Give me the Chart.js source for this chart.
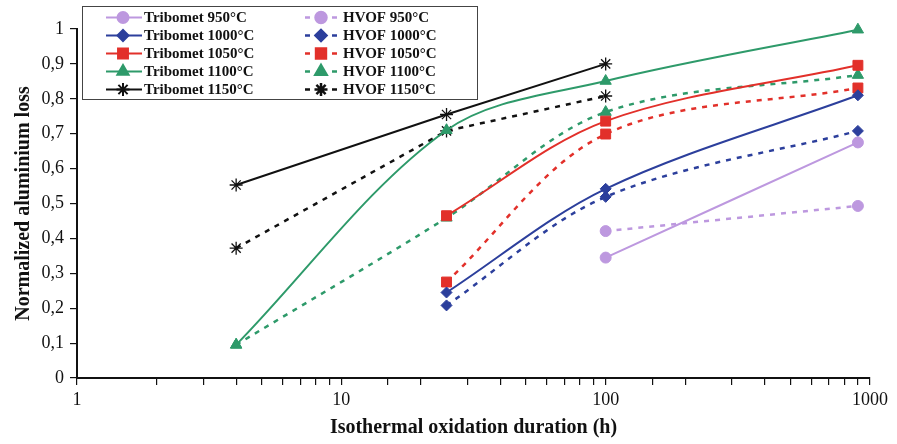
<!DOCTYPE html>
<html>
<head>
<meta charset="utf-8">
<script src="https://cdn.jsdelivr.net/npm/chart.js@4.4.0/dist/chart.umd.min.js"></script>
<style>
  html, body { margin: 0; padding: 0; background: #fff; }
  #wrap { width: 897px; height: 444px; }
</style>
</head>
<body>
<div id="wrap"><canvas id="chart"></canvas></div>
<script>
// --- Data ---
const hours = [4, 25, 100, 900];

const tribomet950  = [null, null, 0.345, 0.675];
const tribomet1000 = [null, 0.245, 0.542, 0.810];
const tribomet1050 = [null, 0.465, 0.736, 0.896];
const tribomet1100 = [0.095, 0.710, 0.851, 0.998];
const tribomet1150 = [0.553, 0.755, 0.900, null];

const hvof950  = [null, null, 0.421, 0.493];
const hvof1000 = [null, 0.208, 0.519, 0.708];
const hvof1050 = [null, 0.275, 0.699, 0.831];
const hvof1100 = [0.095, 0.459, 0.762, 0.868];
const hvof1150 = [0.372, 0.708, 0.808, null];

const xTickLabels = [1, 10, 100, 1000];

const colors = {
    950: '#bd98df',
    1000: '#2c3f9c',
    1050: '#e2302a',
    1100: '#2e9a6a',
    1150: '#111111'
};
const markers = {
    950: { style: 'circle', r: 5.5 },
    1000: { style: 'rectRot', r: 5.5 },
    1050: { style: 'rect', r: 7 },
    1100: { style: 'triangle', r: 6.5 },
    1150: { style: 'star', r: 6.5 }
};

const toPoints = vals => hours
    .map((h, i) => ({ x: h, y: vals[i] }))
    .filter(p => p.y !== null);

const makeSeries = (label, temp, vals, dashed) => ({
    label,
    data: toPoints(vals),
    borderColor: colors[temp],
    backgroundColor: colors[temp],
    borderWidth: dashed ? 2.5 : 2,
    borderDash: dashed ? [5, 6] : [],
    pointStyle: markers[temp].style,
    pointRadius: markers[temp].r,
    pointHoverRadius: markers[temp].r,
    pointBorderWidth: temp === 1150 ? 1.3 : 1,
    pointBorderColor: colors[temp],
    pointBackgroundColor: colors[temp],
    // the 1150°C curves are drawn as straight segments in the original
    tension: temp === 1150 ? 0 : 0.33,
    clip: false,
    dashed
});

const datasets = [
    makeSeries('Tribomet 950°C', 950, tribomet950, false),
    makeSeries('Tribomet 1000°C', 1000, tribomet1000, false),
    makeSeries('Tribomet 1050°C', 1050, tribomet1050, false),
    makeSeries('Tribomet 1100°C', 1100, tribomet1100, false),
    makeSeries('Tribomet 1150°C', 1150, tribomet1150, false),
    makeSeries('HVOF 950°C', 950, hvof950, true),
    makeSeries('HVOF 1000°C', 1000, hvof1000, true),
    makeSeries('HVOF 1050°C', 1050, hvof1050, true),
    makeSeries('HVOF 1100°C', 1100, hvof1100, true),
    makeSeries('HVOF 1150°C', 1150, hvof1150, true)
];

// --- Boxed two-column legend drawn inside the plot ---
const boxedLegend = {
    id: 'boxedLegend',
    afterDraw(chart) {
        const ctx = chart.ctx;
        ctx.save();
        ctx.fillStyle = '#fff';
        ctx.fillRect(82, 6, 395, 93);
        ctx.strokeStyle = '#444';
        ctx.lineWidth = 1;
        ctx.strokeRect(82.5, 6.5, 395, 93);

        ctx.font = 'bold 15px "Liberation Serif"';
        ctx.textBaseline = 'middle';
        ctx.textAlign = 'left';
        chart.data.datasets.forEach((ds, i) => {
            const col = Math.floor(i / 5);
            const row = i % 5;
            const y = 17.5 + row * 18;
            ctx.strokeStyle = ds.borderColor;
            ctx.fillStyle = ds.borderColor;
            ctx.setLineDash([]);
            const pt = { pointStyle: ds.pointStyle, radius: ds.pointRadius, borderWidth: ds.pointBorderWidth, rotation: 0 };
            if (!ds.dashed) {
                ctx.lineWidth = 2;
                ctx.beginPath();
                ctx.moveTo(106, y);
                ctx.lineTo(142, y);
                ctx.stroke();
                Chart.helpers.drawPoint(ctx, pt, 123, y);
            } else {
                ctx.lineWidth = 2.5;
                ctx.beginPath();
                ctx.moveTo(305, y); ctx.lineTo(310, y);
                ctx.moveTo(332, y); ctx.lineTo(337, y);
                ctx.stroke();
                Chart.helpers.drawPoint(ctx, pt, 321, y);
            }
            ctx.fillStyle = '#111';
            ctx.fillText(ds.label, col === 0 ? 144 : 343, y + 1);
        });
        ctx.restore();
    }
};

const serif = '"Liberation Serif", "Times New Roman", serif';

new Chart(document.getElementById('chart'), {
    type: 'line',
    data: { datasets },
    plugins: [boxedLegend],
    options: {
        responsive: true,
        maintainAspectRatio: false,
        animation: false,
        layout: { padding: { top: 29, right: 27, left: 0, bottom: 0 } },
        plugins: {
            legend: { display: false },
            tooltip: { enabled: false }
        },
        scales: {
            x: {
                type: 'logarithmic',
                min: 1,
                max: 1000,
                grid: { display: true, drawOnChartArea: false, drawTicks: true, tickLength: 7, color: '#111', lineWidth: 1.2 },
                border: { display: true, color: '#111', width: 2 },
                ticks: {
                    autoSkip: false,
                    maxRotation: 0,
                    padding: 4,
                    color: '#111',
                    font: { family: serif, size: 18 },
                    callback: v => xTickLabels.includes(v) ? String(v) : ''
                },
                title: {
                    display: true,
                    text: 'Isothermal oxidation duration (h)',
                    color: '#111',
                    font: { family: serif, size: 20, weight: 'bold' },
                    padding: { top: 0, bottom: 4 }
                },
                afterFit: scale => { scale.height = 66; }
            },
            y: {
                min: 0,
                max: 1,
                ticks: {
                    stepSize: 0.1,
                    padding: 6,
                    color: '#111',
                    font: { family: serif, size: 18 },
                    callback: v => String(Math.round(v * 10) / 10).replace('.', ',')
                },
                grid: { display: true, drawOnChartArea: false, drawTicks: true, tickLength: 7, color: '#111', lineWidth: 1.2 },
                border: { display: true, color: '#111', width: 2 },
                title: {
                    display: true,
                    text: 'Normalized aluminium loss',
                    color: '#111',
                    font: { family: serif, size: 20, weight: 'bold' },
                    padding: { top: 12, bottom: 0 }
                },
                afterFit: scale => { scale.width = 77; }
            }
        }
    }
});
</script>
</body>
</html>
